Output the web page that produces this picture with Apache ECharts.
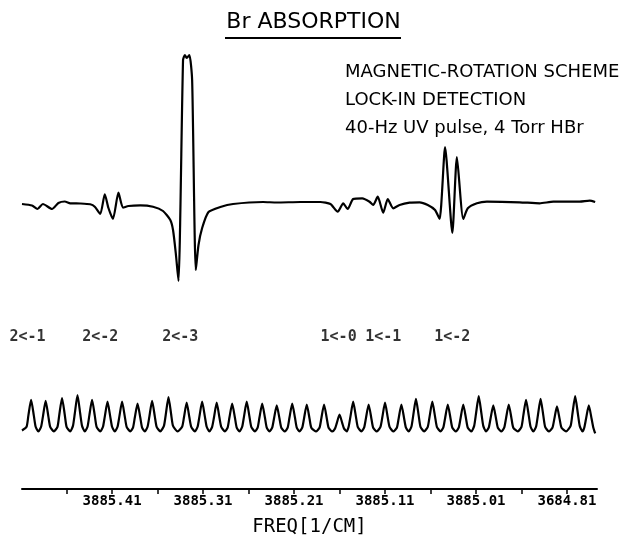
<!DOCTYPE html>
<html>
<head>
<meta charset="utf-8">
<script src="https://cdn.jsdelivr.net/npm/echarts@6/dist/echarts.min.js"></script>
<style>
  html, body { margin: 0; padding: 0; background: #fff; }
  #chart { width: 627px; height: 538px; }
</style>
</head>
<body>
<div id="chart"></div>
<script>
// magnetic-rotation (lock-in) signal, frequency in 1/cm, signal in arbitrary units
const absFreq = [
  3885.509, 3885.498, 3885.492, 3885.486, 3885.476, 3885.469, 3885.462, 3885.456, 3885.445, 3885.434,
  3885.429, 3885.423, 3885.418, 3885.414, 3885.409, 3885.403, 3885.398, 3885.392, 3885.379, 3885.365,
  3885.354, 3885.346, 3885.343, 3885.340, 3885.337, 3885.332, 3885.330, 3885.328, 3885.325, 3885.322,
  3885.318, 3885.315, 3885.311, 3885.304, 3885.291, 3885.277, 3885.244, 3885.229, 3885.203, 3885.181,
  3885.170, 3885.162, 3885.156, 3885.151, 3885.145, 3885.135, 3885.127, 3885.123, 3885.118, 3885.112,
  3885.107, 3885.101, 3885.094, 3885.083, 3885.072, 3885.063, 3885.055, 3885.050, 3885.044, 3885.036,
  3885.031, 3885.024, 3885.019, 3885.009, 3884.998, 3884.962, 3884.940, 3884.925, 3884.896, 3884.885,
  3884.879
]
const absSignal = [
  -1, -2.5, -6, -1, -6, 0, 1.5, -0.3, -0.5, -1.3,
  -3.7, -11, 8.7, -5, -16, 10.3, -4.7, -3, -2.3, -3.7,
  -8, -17, -27, -50, -78, 143, 148, 145, 148, 123,
  -67, -42, -25, -9, -4, -1, 1, 0.5, 1, 1,
  -1, -8.7, -0.3, -6, 4, 4.7, 1.3, -2, 6.3, -9.7,
  4, -5.3, -2, 0.3, 0.7, -2, -7, -16, 56, -30,
  46, -16, -5.3, -0.3, 1.3, 0.7, -0.3, 1.3, 1.3, 2.3,
  1
]

// etalon fringes (reference trace), one fringe per line, valley after it
const refFreq = [
  3885.509,
  3885.504, 3885.502, 3885.499, 3885.496, 3885.494, 3885.491,
  3885.488, 3885.486, 3885.483, 3885.480, 3885.478, 3885.474,
  3885.470, 3885.468, 3885.465, 3885.462, 3885.460, 3885.456,
  3885.453, 3885.451, 3885.448, 3885.445, 3885.443, 3885.440,
  3885.437, 3885.435, 3885.432, 3885.429, 3885.427, 3885.423,
  3885.420, 3885.418, 3885.415, 3885.412, 3885.410, 3885.407,
  3885.404, 3885.402, 3885.399, 3885.396, 3885.394, 3885.390,
  3885.387, 3885.385, 3885.382, 3885.379, 3885.377, 3885.374,
  3885.371, 3885.369, 3885.366, 3885.363, 3885.361, 3885.357,
  3885.353, 3885.351, 3885.348, 3885.345, 3885.343, 3885.338,
  3885.333, 3885.331, 3885.328, 3885.325, 3885.323, 3885.319,
  3885.316, 3885.314, 3885.311, 3885.308, 3885.306, 3885.303,
  3885.300, 3885.298, 3885.295, 3885.292, 3885.290, 3885.286,
  3885.283, 3885.281, 3885.278, 3885.275, 3885.273, 3885.270,
  3885.267, 3885.265, 3885.262, 3885.259, 3885.257, 3885.253,
  3885.250, 3885.248, 3885.245, 3885.242, 3885.240, 3885.237,
  3885.234, 3885.232, 3885.229, 3885.226, 3885.224, 3885.220,
  3885.217, 3885.215, 3885.212, 3885.209, 3885.207, 3885.204,
  3885.201, 3885.199, 3885.196, 3885.193, 3885.191, 3885.186,
  3885.182, 3885.180, 3885.177, 3885.174, 3885.172, 3885.168,
  3885.165, 3885.163, 3885.160, 3885.157, 3885.155, 3885.152,
  3885.150, 3885.148, 3885.145, 3885.142, 3885.140, 3885.136,
  3885.133, 3885.131, 3885.128, 3885.125, 3885.123, 3885.119,
  3885.115, 3885.113, 3885.110, 3885.107, 3885.105, 3885.101,
  3885.097, 3885.095, 3885.092, 3885.089, 3885.087, 3885.084,
  3885.081, 3885.079, 3885.076, 3885.073, 3885.071, 3885.067,
  3885.063, 3885.061, 3885.058, 3885.055, 3885.053, 3885.049,
  3885.046, 3885.044, 3885.041, 3885.038, 3885.036, 3885.032,
  3885.029, 3885.027, 3885.024, 3885.021, 3885.019, 3885.015,
  3885.012, 3885.010, 3885.007, 3885.004, 3885.002, 3884.999,
  3884.996, 3884.994, 3884.991, 3884.988, 3884.986, 3884.982,
  3884.979, 3884.977, 3884.974, 3884.971, 3884.969, 3884.964,
  3884.960, 3884.958, 3884.955, 3884.952, 3884.950, 3884.947,
  3884.944, 3884.942, 3884.939, 3884.936, 3884.934, 3884.930,
  3884.926, 3884.924, 3884.921, 3884.918, 3884.916, 3884.911,
  3884.906, 3884.904, 3884.901, 3884.898, 3884.896, 3884.893,
  3884.891, 3884.889, 3884.886, 3884.883, 3884.881, 3884.879
]
const refSignal = [
  1,
  5, 17, 34, 17, 5, 0,
  5, 16, 33, 16, 5, 0,
  5, 18, 36, 18, 5, 0,
  6, 19, 39, 19, 6, 0,
  5, 17, 34, 17, 5, 0,
  5, 16, 32, 16, 5, 0,
  5, 16, 32, 16, 5, 0,
  4, 15, 30, 15, 4, 0,
  5, 16, 33, 16, 5, 0,
  6, 18, 37, 18, 6, 0,
  5, 15, 31, 15, 5, 0,
  5, 16, 32, 16, 5, 0,
  5, 15, 31, 15, 5, 0,
  4, 15, 30, 15, 4, 0,
  5, 16, 32, 16, 5, 0,
  4, 15, 30, 15, 4, 0,
  4, 14, 28, 14, 4, 0,
  4, 15, 30, 15, 4, 0,
  4, 14, 29, 14, 4, 0,
  4, 14, 29, 14, 4, 0,
  3, 9, 18, 9, 3, 0,
  5, 16, 32, 16, 5, 0,
  4, 14, 29, 14, 4, 0,
  5, 15, 31, 15, 5, 0,
  4, 14, 29, 14, 4, 0,
  5, 17, 35, 17, 5, 0,
  5, 16, 32, 16, 5, 0,
  4, 14, 29, 14, 4, 0,
  4, 14, 29, 14, 4, 0,
  6, 19, 38, 19, 6, 0,
  4, 14, 28, 14, 4, 0,
  4, 14, 29, 14, 4, 0,
  5, 17, 34, 17, 5, 0,
  5, 17, 35, 17, 5, 0,
  4, 13, 27, 13, 4, 0,
  6, 19, 38, 19, 6, 0,
  4, 14, 28, 14, 4, -2
]

// transition labels
const transLabels = ['2<-1', '2<-2', '2<-3', '1<-0', '1<-1', '1<-2']
const transFreq = [3885.503, 3885.423, 3885.335, 3885.161, 3885.112, 3885.036]

// axis ticks (labels copied as printed, including the last one)
const tickValues = [3885.41, 3885.31, 3885.21, 3885.11, 3885.01, 3884.91]
const tickLabels = ['3885.41', '3885.31', '3885.21', '3885.11', '3885.01', '3684.81']
const minorTickValues = [3885.46, 3885.36, 3885.26, 3885.16, 3885.06, 3884.96]

const noteLines = ['MAGNETIC-ROTATION SCHEME', 'LOCK-IN DETECTION', '40-Hz UV pulse, 4 Torr HBr']

const xMin = 3884.877
const xMax = 3885.509

const chart = echarts.init(document.getElementById('chart'))

const tickLabel = v => {
  const i = tickValues.findIndex(t => Math.abs(t - v) < 1e-6)
  return i >= 0 ? tickLabels[i] : ''
}

const option = {
  animation: false,
  backgroundColor: '#fff',
  title: [
    {
      text: 'Br ABSORPTION',
      left: 'center',
      top: 6,
      textStyle: { fontFamily: 'DejaVu Sans', fontSize: 22, fontWeight: 'normal', color: '#000' }
    },
    {
      text: noteLines.join('\n'),
      left: 340,
      top: 53,
      textStyle: { fontFamily: 'DejaVu Sans', fontSize: 18, fontWeight: 'normal', color: '#000', lineHeight: 28 }
    }
  ],
  graphic: [
    {
      type: 'line',
      shape: { x1: 225, y1: 38, x2: 401, y2: 38 },
      style: { stroke: '#000', lineWidth: 2 }
    }
  ],
  grid: [
    { left: 22, right: 30, top: 43, height: 300 },
    { left: 22, right: 30, top: 385, height: 112 }
  ],
  xAxis: [
    { type: 'value', gridIndex: 0, min: xMin, max: xMax, inverse: true, show: false },
    {
      type: 'value',
      gridIndex: 1,
      min: xMin,
      max: xMax,
      inverse: true,
      name: 'FREQ[1/CM]',
      nameLocation: 'middle',
      nameGap: 29,
      nameTextStyle: { fontFamily: 'DejaVu Sans Mono', fontSize: 19, color: '#000' },
      axisLine: { onZero: false, lineStyle: { color: '#000', width: 2 } },
      axisTick: {
        customValues: tickValues.concat(minorTickValues),
        length: 5,
        lineStyle: { color: '#000', width: 1.5 }
      },
      axisLabel: {
        customValues: tickValues,
        formatter: tickLabel,
        margin: 5,
        fontFamily: 'DejaVu Sans Mono',
        fontWeight: 'bold',
        fontSize: 14,
        color: '#000'
      },
      splitLine: { show: false }
    }
  ],
  yAxis: [
    { type: 'value', gridIndex: 0, min: -140, max: 160, show: false },
    { type: 'value', gridIndex: 1, min: -62, max: 50, show: false }
  ],
  series: [
    {
      name: 'signal',
      type: 'line',
      xAxisIndex: 0,
      yAxisIndex: 0,
      data: absFreq.map((f, i) => [f, absSignal[i]]),
      showSymbol: false,
      smooth: 0.2,
      lineStyle: { color: '#000', width: 2.2 }
    },
    {
      name: 'fringes',
      type: 'line',
      xAxisIndex: 1,
      yAxisIndex: 1,
      data: refFreq.map((f, i) => [f, refSignal[i]]),
      showSymbol: false,
      smooth: 0.2,
      lineStyle: { color: '#000', width: 2.2 }
    },
    {
      name: 'transitions',
      type: 'scatter',
      xAxisIndex: 0,
      yAxisIndex: 0,
      symbolSize: 1,
      itemStyle: { color: 'rgba(0,0,0,0)' },
      data: transFreq.map((f, i) => ({ name: transLabels[i], value: [f, -134] })),
      label: {
        show: true,
        position: 'inside',
        formatter: p => p.name,
        fontFamily: 'DejaVu Sans Mono',
        fontWeight: 'bold',
        fontSize: 15,
        color: '#000'
      }
    }
  ]
}

chart.setOption(option)
</script>
</body>
</html>
